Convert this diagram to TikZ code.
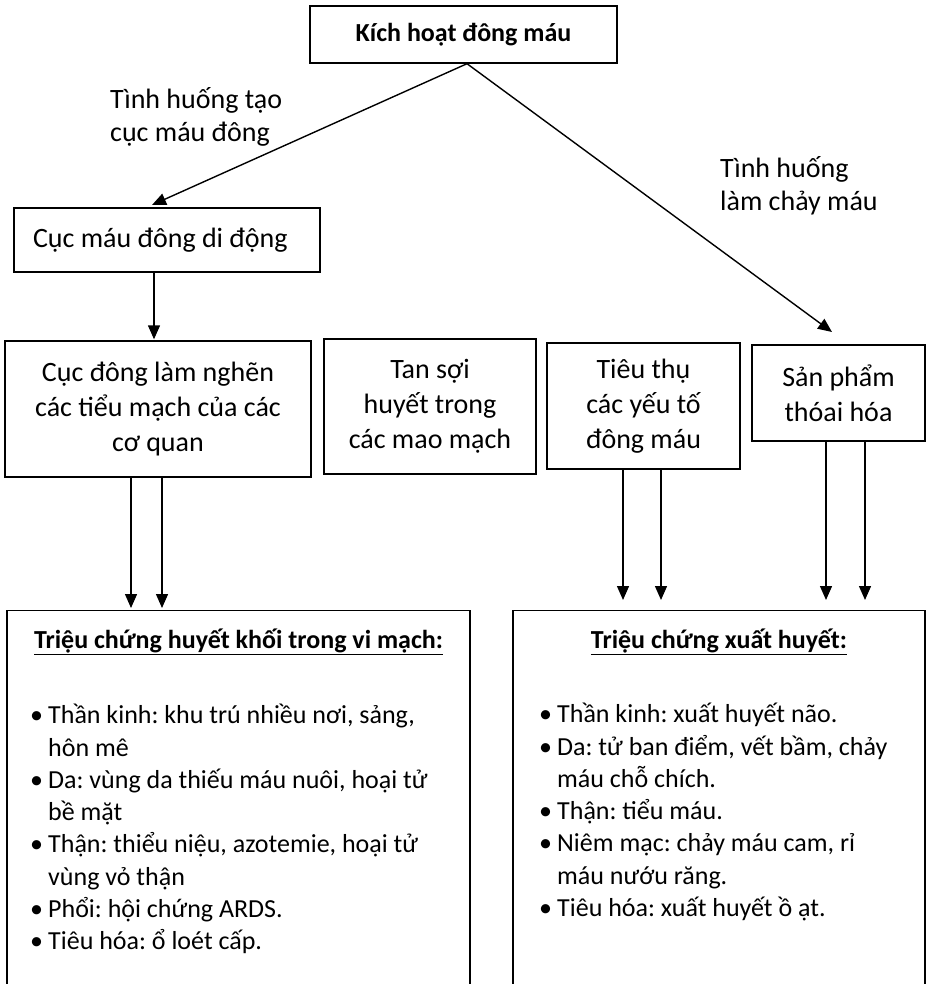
\documentclass[tikz,border=0pt]{standalone}
\usepackage{fontspec}
\setmainfont{Carlito}
\usetikzlibrary{arrows.meta}
\newcommand{\blt}{\makebox[18pt][l]{•}}
\newcommand{\bind}{\hspace*{18pt}}
\begin{document}
\frenchspacing
\begin{tikzpicture}[x=1pt,y=-1pt,
  box/.style={draw, line width=1.4pt, inner sep=0pt, align=flush center, font=\fontsize{28}{35}\selectfont},
  arr/.style={line width=1.4pt, -{Triangle[length=14pt,width=12pt]}},
  lbl/.style={align=flush left, inner sep=0pt, font=\fontsize{28}{33}\selectfont},
  lst/.style={align=flush left, inner sep=0pt, font=\fontsize{26}{32.3}\selectfont}]
\useasboundingbox (0,0) rectangle (929,984);
\fill[white] (0,0) rectangle (929,984);

\node[box, minimum width=307pt, minimum height=57pt, font=\fontsize{26}{35}\selectfont\bfseries] (top) at (463.5,34.5) {Kích hoạt đông máu};

\node[lbl, anchor=north west] (l1) at (110,87) {Tình huống tạo\\cục máu đông};
\node[lbl, anchor=north west] (l2) at (720,156) {Tình huống\\làm chảy máu};

\node[box, minimum width=306pt, minimum height=64pt, text width=268pt, align=flush left] (cmd) at (167,240) {Cục máu đông di động};

\node[box, minimum width=306pt, minimum height=136pt] (cd) at (158,409) {Cục đông làm nghẽn\\các tiểu mạch của các\\cơ quan};
\node[box, minimum width=212pt, minimum height=135pt] (ts) at (430,406.5) {Tan sợi\\huyết trong\\các mao mạch};
\node[box, minimum width=193pt, minimum height=126pt] (tt) at (643.5,406) {Tiêu thụ\\các yếu tố\\đông máu};
\node[box, minimum width=173pt, minimum height=96pt] (sp) at (838.5,393) {Sản phẩm\\thóai hóa};

\node[box, anchor=north, minimum width=463pt, minimum height=420pt] (sl) at (238.5,610) {};
\node[box, anchor=north, minimum width=412pt, minimum height=420pt] (sr) at (719,610) {};

\node[lbl, font=\fontsize{26}{33}\selectfont\bfseries] (tl) at (238.5,642) {\underline{Triệu chứng huyết khối trong vi mạch:}};
\node[lbl, font=\fontsize{26}{33}\selectfont\bfseries] (tr) at (719,642) {\underline{Triệu chứng xuất huyết:}};

\node[lst, anchor=north west] (bl) at (30,704) {\blt Thần kinh: khu trú nhiều nơi, sảng,\\
\bind hôn mê\\
\blt Da: vùng da thiếu máu nuôi, hoại tử\\
\bind bề mặt\\
\blt Thận: thiểu niệu, azotemie, hoại tử\\
\bind vùng vỏ thận\\
\blt Phổi: hội chứng ARDS.\\
\blt Tiêu hóa: ổ loét cấp.};

\node[lst, anchor=north west] (br) at (539,703) {\blt Thần kinh: xuất huyết não.\\
\blt Da: tử ban điểm, vết bầm, chảy\\
\bind máu chỗ chích.\\
\blt Thận: tiểu máu.\\
\blt Niêm mạc: chảy máu cam, rỉ\\
\bind máu nướu răng.\\
\blt Tiêu hóa: xuất huyết ồ ạt.};

\coordinate (t1) at (152,205);
\coordinate (t2) at (832,332);
\coordinate (xa) at (154,0);
\coordinate (xb) at (131,0);
\coordinate (xc) at (162,0);
\coordinate (xd) at (623,0);
\coordinate (xe) at (661,0);
\coordinate (xf) at (826,0);
\coordinate (xg) at (865,0);

\draw[arr] ([xshift=3.5pt]top.south) -- (t1);
\draw[arr] ([xshift=3.5pt]top.south) -- (t2);
\draw[arr, shorten >=1pt] (cmd.south -| xa) -- (cd.north -| xa);
\draw[arr, shorten >=2pt] (cd.south -| xb) -- (sl.north -| xb);
\draw[arr, shorten >=2pt] (cd.south -| xc) -- (sl.north -| xc);
\draw[arr, shorten >=10pt] (tt.south -| xd) -- (sr.north -| xd);
\draw[arr, shorten >=10pt] (tt.south -| xe) -- (sr.north -| xe);
\draw[arr, shorten >=10pt] (sp.south -| xf) -- (sr.north -| xf);
\draw[arr, shorten >=10pt] (sp.south -| xg) -- (sr.north -| xg);
\end{tikzpicture}
\end{document}
